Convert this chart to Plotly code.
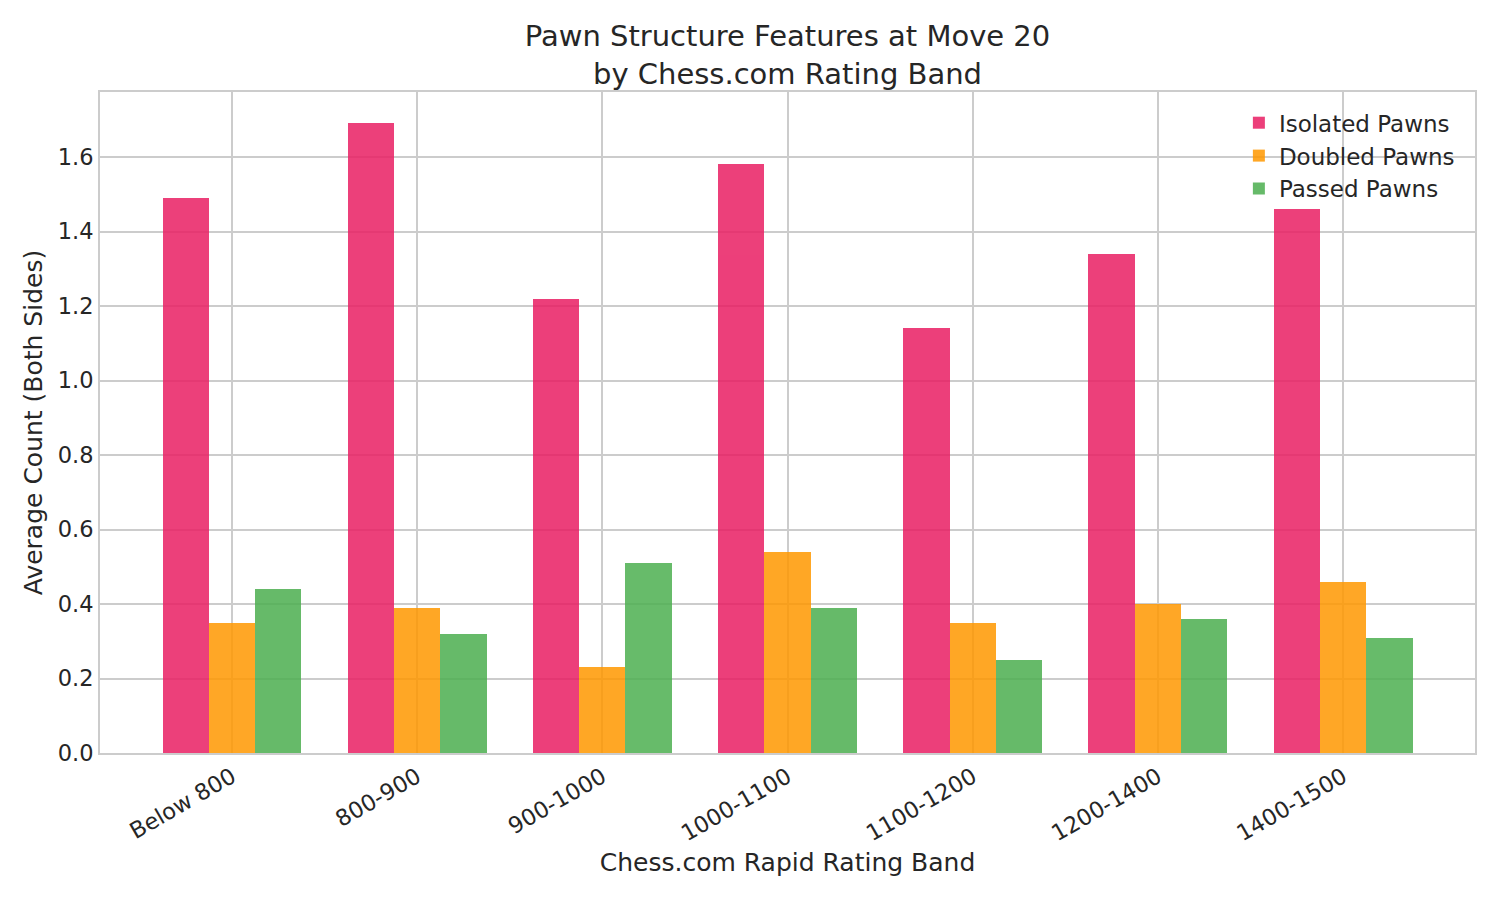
import plotly.graph_objects as go

bandas = ["Below 800", "800-900", "900-1000", "1000-1100", "1100-1200", "1200-1400", "1400-1500"]
isolados = [1.49, 1.69, 1.22, 1.58, 1.14, 1.34, 1.46]
dobrados = [0.35, 0.39, 0.23, 0.54, 0.35, 0.40, 0.46]
passados = [0.44, 0.32, 0.51, 0.39, 0.25, 0.36, 0.31]

series = [
    ("Isolated Pawns", isolados, "#E91E63", -0.25),
    ("Doubled Pawns", dobrados, "#FF9800", 0.0),
    ("Passed Pawns", passados, "#4CAF50", 0.25),
]

x_pos = list(range(len(bandas)))

fig = go.Figure()
for nome, valores, cor, desloc in series:
    fig.add_trace(go.Bar(
        x=[p + desloc for p in x_pos],
        y=valores,
        name=nome,
        width=0.25,
        marker=dict(color=cor, line=dict(width=0)),
        opacity=0.85,
    ))

# a página tem margem de 8px no body, por isso as margens estão deslocadas
fig.update_layout(
    width=1500,
    height=900,
    plot_bgcolor="white",
    paper_bgcolor="white",
    font=dict(family="DejaVu Sans", size=22, color="#262626"),
    title=dict(
        text="Pawn Structure Features at Move 20<br>by Chess.com Rating Band",
        xref="paper", x=0.5, xanchor="center",
        yref="container", y=0.958, yanchor="middle",
        font=dict(size=29),
    ),
    margin=dict(l=92, r=33, t=84, b=155),
    barmode="overlay",
    bargap=0,
    showlegend=True,
    legend=dict(
        x=0.989, xanchor="right", y=0.986, yanchor="top",
        bgcolor="rgba(255,255,255,0)", borderwidth=0,
        font=dict(size=23),
    ),
    xaxis=dict(
        tickmode="array",
        tickvals=x_pos,
        ticktext=bandas,
        tickangle=-30,
        range=[-0.7125, 6.7125],
        showgrid=True, gridcolor="#cccccc", gridwidth=1.6,
        showline=True, linecolor="#cccccc", linewidth=2, mirror=True,
        ticks="", tickfont=dict(size=22.5),
        title=dict(text="Chess.com Rapid Rating Band", font=dict(size=25), standoff=8),
        zeroline=False,
    ),
    yaxis=dict(
        range=[0, 1.7745],
        tickmode="array",
        tickvals=[0, 0.2, 0.4, 0.6, 0.8, 1.0, 1.2, 1.4, 1.6],
        ticktext=["0.0", "0.2", "0.4", "0.6", "0.8", "1.0", "1.2", "1.4", "1.6"],
        showgrid=True, gridcolor="#cccccc", gridwidth=1.6,
        showline=True, linecolor="#cccccc", linewidth=2, mirror=True,
        ticks="", tickfont=dict(size=22.5),
        title=dict(text="Average Count (Both Sides)", font=dict(size=25), standoff=8),
        zeroline=False,
    ),
)

fig.write_html("out.html")
